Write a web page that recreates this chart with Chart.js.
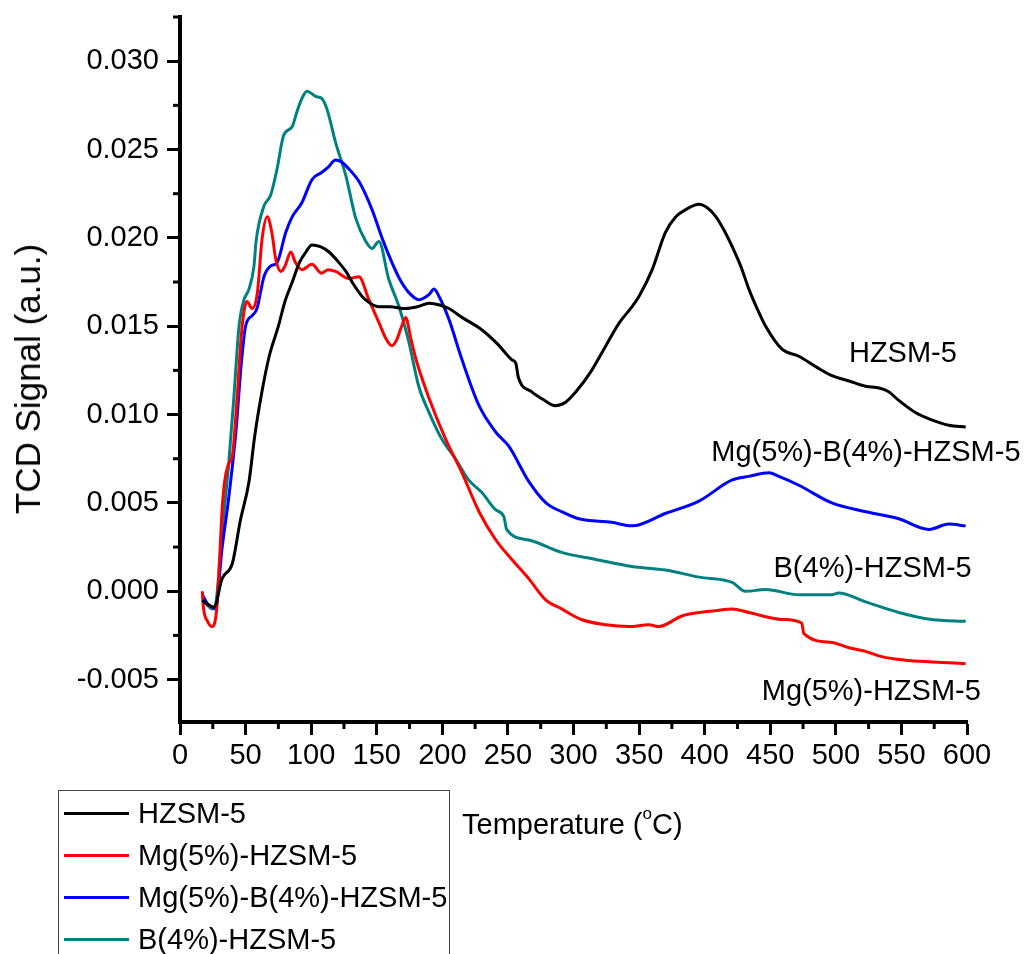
<!DOCTYPE html>
<html>
<head>
<meta charset="utf-8">
<script src="https://cdn.jsdelivr.net/npm/chart.js@4"></script>
<style>
  html, body { margin: 0; padding: 0; background: #fff; }
  #wrap { position: relative; width: 1026px; height: 954px; overflow: hidden; font-family: "Liberation Sans", Arial, sans-serif; }
  canvas { position: absolute; left: 0; top: 0; }
  .legend { position: absolute; left: 58px; top: 790px; width: 392px; height: 200px; border: 1.5px solid #444; box-sizing: border-box; }
  .row { position: absolute; left: 0; height: 40px; line-height: 40px; font-size: 29px; white-space: nowrap; }
  .row span.swatch { position: absolute; left: 5px; top: 19px; width: 65px; height: 3px; }
  .row span.txt { position: absolute; left: 79px; }
  .xtitle { position: absolute; left: 462px; top: 808px; font-size: 29px; white-space: nowrap; }
  .xtitle sup { font-size: 17px; position: relative; top: -4px; }
  .ytitle { position: absolute; left: 28px; top: 379px; font-size: 35px; white-space: nowrap; transform: translate(-50%, -50%) rotate(-90deg); }
</style>
</head>
<body>
<div id="wrap">
  <canvas id="c" width="1026" height="954"></canvas>
  <div class="ytitle">TCD Signal (a.u.)</div>
  <div class="xtitle">Temperature (<sup>o</sup>C)</div>
  <div class="legend" id="legend"></div>
</div>
<script>
// series names and colours
const names = ['HZSM-5', 'Mg(5%)-HZSM-5', 'Mg(5%)-B(4%)-HZSM-5', 'B(4%)-HZSM-5'];
const colors = ['#000000', '#ff0000', '#0000ff', '#008080'];

// HZSM-5
const hzX = [17, 20, 26, 32, 40, 46, 52.6, 57, 62.5, 68, 75, 80, 85.6, 91, 96, 100.6, 107, 113.6, 120, 126.5, 132, 138.7, 145, 151.7, 160, 172, 181, 190, 198, 205, 215, 230, 242, 253, 256, 258, 268, 278, 286, 294, 302, 313, 324.7, 335, 344.5, 350, 360, 370, 378, 385.6, 395.6, 402, 408.5, 415, 421, 428, 433.7, 440, 446.5, 459, 471.8, 485, 497, 510, 522.6, 533, 540, 548, 561, 573, 586, 599];
const hzY = [-0.0005, -0.0007, -0.0009, 0.0007, 0.0016, 0.0040, 0.0062, 0.0088, 0.0113, 0.0133, 0.0150, 0.0164, 0.0175, 0.0186, 0.0192, 0.0196, 0.0195, 0.0192, 0.0187, 0.0181, 0.0174, 0.0167, 0.0163, 0.0161, 0.0161, 0.0160, 0.0161, 0.0163, 0.0162, 0.0160, 0.0155, 0.0148, 0.0140, 0.0131, 0.0129, 0.0121, 0.0113, 0.0108, 0.0105, 0.0107, 0.0113, 0.0124, 0.0139, 0.0152, 0.0161, 0.0167, 0.0182, 0.0203, 0.0212, 0.0216, 0.0219, 0.0217, 0.0212, 0.0204, 0.0195, 0.0183, 0.0171, 0.0160, 0.0150, 0.0137, 0.0133, 0.0127, 0.0122, 0.0119, 0.0116, 0.0115, 0.0113, 0.0108, 0.0101, 0.0097, 0.0094, 0.0093];

// Mg(5%)-HZSM-5
const mgX = [17, 18, 21, 24.6, 28, 30, 32, 34, 37, 40, 43.5, 47, 51, 55, 59, 62.5, 66.5, 70, 73, 77, 80, 84.5, 88, 93, 100.6, 108, 113, 118.6, 128.8, 136.4, 144, 151.7, 157, 161.6, 165, 169, 172, 176, 180, 190, 202.6, 215, 228, 240.8, 253, 266, 279, 291, 306, 324.7, 342, 357.5, 365, 382.6, 395.6, 408, 421, 433.7, 459, 474, 475.6, 497, 510, 522.6, 535, 553, 573, 599];
const mgY = [0.0000, -0.0010, -0.0017, -0.0020, -0.0010, 0.0015, 0.0045, 0.0062, 0.0072, 0.0077, 0.0109, 0.0147, 0.0164, 0.0160, 0.0169, 0.0199, 0.0212, 0.0203, 0.0188, 0.0181, 0.0184, 0.0192, 0.0186, 0.0182, 0.0185, 0.0180, 0.0182, 0.0181, 0.0177, 0.0178, 0.0165, 0.0152, 0.0143, 0.0139, 0.0142, 0.0150, 0.0155, 0.0143, 0.0131, 0.0109, 0.0086, 0.0067, 0.0045, 0.0029, 0.0018, 0.0007, -0.0005, -0.0010, -0.0016, -0.0019, -0.0020, -0.0019, -0.0020, -0.0014, -0.0012, -0.0011, -0.0010, -0.0012, -0.0016, -0.0018, -0.0024, -0.0029, -0.0032, -0.0034, -0.0037, -0.0039, -0.0040, -0.0041];

// Mg(5%)-B(4%)-HZSM-5
const mgbX = [17, 21, 24.6, 27, 32, 37, 42.6, 46.5, 50, 55, 58.7, 64, 69, 74, 80.6, 85.6, 93, 100.6, 108, 113, 118.6, 123, 128.8, 136.4, 146.4, 154, 161.6, 168, 174.5, 182, 190, 193.6, 197.4, 205, 215, 228, 240.8, 250.8, 266, 279, 291, 304, 329, 344.6, 370, 395.6, 421, 433.7, 449, 456.6, 471.8, 497, 523, 548, 571, 586, 599];
const mgbY = [-0.0002, -0.0007, -0.0009, -0.0010, 0.0024, 0.0052, 0.0090, 0.0127, 0.0150, 0.0156, 0.0160, 0.0178, 0.0184, 0.0186, 0.0203, 0.0212, 0.0220, 0.0233, 0.0237, 0.0240, 0.0244, 0.0243, 0.0239, 0.0232, 0.0216, 0.0200, 0.0186, 0.0176, 0.0169, 0.0165, 0.0168, 0.0171, 0.0167, 0.0154, 0.0131, 0.0105, 0.0090, 0.0082, 0.0062, 0.0050, 0.0045, 0.0041, 0.0039, 0.0037, 0.0044, 0.0051, 0.0063, 0.0065, 0.0067, 0.0065, 0.0060, 0.0050, 0.0045, 0.0041, 0.0035, 0.0038, 0.0037];

// B(4%)-HZSM-5
const bX = [17, 21, 24.6, 27, 32, 37, 41, 45, 48.8, 52.6, 56.4, 58, 64, 69, 74, 79, 85.6, 89, 93, 96.8, 103.6, 108, 112, 118.6, 126.5, 134, 141.7, 146.4, 151.7, 159, 167, 174.5, 182, 190, 199.7, 210, 220, 230, 240.8, 247, 249, 266, 291, 317, 344.6, 370, 395.6, 421, 431, 446.6, 471.8, 497, 502, 522.6, 548, 573, 599];
const bY = [-0.0003, -0.0008, -0.0010, -0.0008, 0.0033, 0.0071, 0.0109, 0.0150, 0.0165, 0.0171, 0.0184, 0.0198, 0.0218, 0.0224, 0.0239, 0.0258, 0.0263, 0.0271, 0.0279, 0.0283, 0.0280, 0.0279, 0.0273, 0.0254, 0.0235, 0.0211, 0.0198, 0.0194, 0.0198, 0.0177, 0.0161, 0.0141, 0.0116, 0.0101, 0.0086, 0.0075, 0.0063, 0.0056, 0.0046, 0.0042, 0.0035, 0.0029, 0.0022, 0.0018, 0.0014, 0.0012, 0.0008, 0.0005, 0.0000, 0.0001, -0.0002, -0.0002, -0.0001, -0.0006, -0.0012, -0.0016, -0.0017];

// axis ticks
const xTicks = [0, 50, 100, 150, 200, 250, 300, 350, 400, 450, 500, 550, 600];
const yTicks = [-0.005, 0.000, 0.005, 0.010, 0.015, 0.020, 0.025, 0.030];
const xMinor = [25, 75, 125, 175, 225, 275, 325, 375, 425, 475, 525, 575];
const yMinor = [-0.0025, 0.0025, 0.0075, 0.0125, 0.0175, 0.0225, 0.0275, 0.0325];

// curve labels: [text, x, y] in data units (left edge, vertical centre)
const curveLabels = [
  ['HZSM-5', 510, 0.0134],
  ['Mg(5%)-B(4%)-HZSM-5', 405, 0.0078],
  ['B(4%)-HZSM-5', 452.5, 0.00125],
  ['Mg(5%)-HZSM-5', 443.5, -0.0057]
];

const FONT = '"Liberation Sans", Arial, sans-serif';
const series = [[hzX, hzY], [mgX, mgY], [mgbX, mgbY], [bX, bY]];

const datasets = series.map((s, i) => ({
  label: names[i],
  data: s[0].map((x, k) => ({ x: x, y: s[1][k] })),
  borderColor: colors[i],
  borderWidth: 3,
  pointRadius: 0,
  cubicInterpolationMode: 'monotone',
  fill: false
}));

const extras = {
  id: 'extras',
  afterDraw(chart) {
    const ctx = chart.ctx;
    const xs = chart.scales.x, ys = chart.scales.y;
    ctx.save();
    ctx.strokeStyle = '#000';
    ctx.lineWidth = 3;
    xMinor.forEach(v => {
      const p = xs.getPixelForValue(v);
      ctx.beginPath(); ctx.moveTo(p, ys.bottom); ctx.lineTo(p, ys.bottom + 7); ctx.stroke();
    });
    yMinor.forEach(v => {
      if (v > ys.max || v < ys.min) return;
      const p = ys.getPixelForValue(v);
      ctx.beginPath(); ctx.moveTo(xs.left, p); ctx.lineTo(xs.left - 7, p); ctx.stroke();
    });
    ctx.fillStyle = '#000';
    ctx.font = '29px ' + FONT;
    ctx.textBaseline = 'middle';
    ctx.textAlign = 'left';
    curveLabels.forEach(l => {
      ctx.fillText(l[0], xs.getPixelForValue(l[1]), ys.getPixelForValue(l[2]));
    });
    ctx.restore();
  }
};

new Chart(document.getElementById('c'), {
  type: 'line',
  data: { datasets: datasets },
  options: {
    responsive: false,
    animation: false,
    layout: { padding: { top: 17, right: 59, left: 0, bottom: 0 } },
    plugins: { legend: { display: false }, tooltip: { enabled: false } },
    scales: {
      x: {
        type: 'linear',
        min: 0, max: 600,
        afterFit(s) { s.height = 232; s.paddingLeft = 0; s.paddingRight = 0; },
        afterBuildTicks(s) { s.ticks = xTicks.map(v => ({ value: v })); },
        grid: { display: true, drawOnChartArea: false, drawTicks: true, tickLength: 13, tickWidth: 3, tickColor: '#000' },
        border: { display: true, color: '#000', width: 4 },
        ticks: { color: '#000', font: { family: FONT, size: 29 }, padding: 4, maxRotation: 0, autoSkip: false }
      },
      y: {
        type: 'linear',
        min: -0.0074, max: 0.0325,
        afterFit(s) { s.width = 180; s.paddingTop = 0; s.paddingBottom = 0; },
        afterBuildTicks(s) { s.ticks = yTicks.map(v => ({ value: v })); },
        grid: { display: true, drawOnChartArea: false, drawTicks: true, tickLength: 13, tickWidth: 3, tickColor: '#000' },
        border: { display: true, color: '#000', width: 4 },
        ticks: {
          color: '#000', font: { family: FONT, size: 29 }, padding: 8, autoSkip: false,
          callback: v => v.toFixed(3)
        }
      }
    }
  },
  plugins: [extras]
});

// HTML legend
const leg = document.getElementById('legend');
names.forEach((n, i) => {
  const r = document.createElement('div');
  r.className = 'row';
  r.style.top = (2 + i * 42) + 'px';
  r.innerHTML = '<span class="swatch" style="background:' + colors[i] + '"></span><span class="txt">' + n + '</span>';
  leg.appendChild(r);
});
</script>
</body>
</html>
